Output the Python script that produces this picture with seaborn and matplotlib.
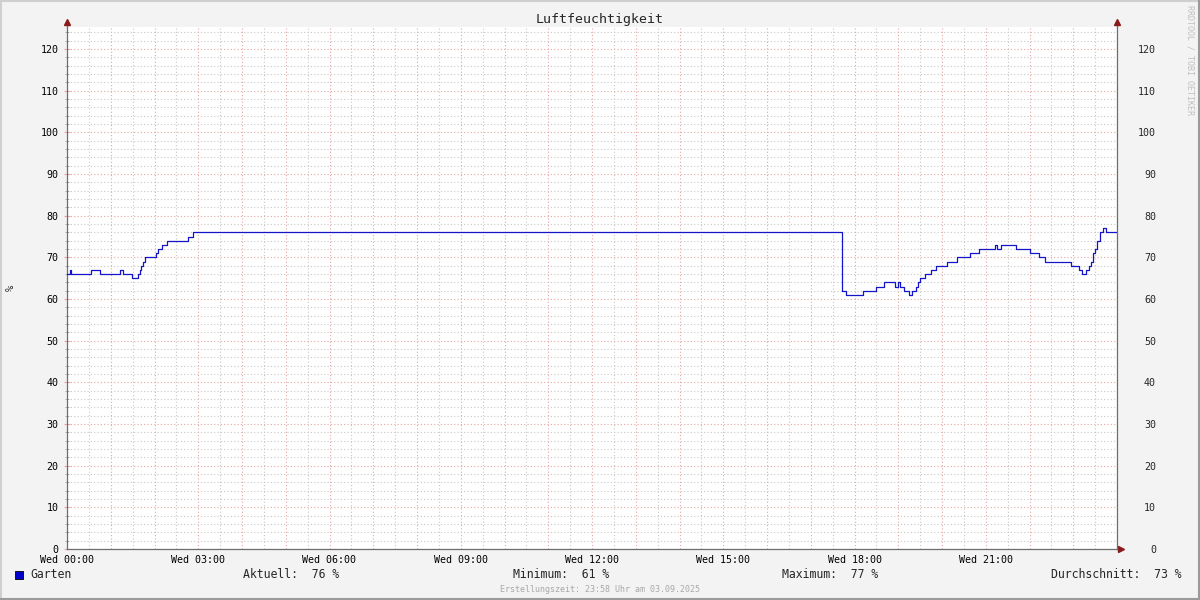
import numpy as np
import matplotlib
matplotlib.use("Agg")
import matplotlib.pyplot as plt
import seaborn as sns
import pandas as pd
from matplotlib.patches import Rectangle
from matplotlib.lines import Line2D

# Luftfeuchtigkeit Garten, Stufenpunkte (Stunde, Wert in %)
stunden = [0.00, 0.06, 0.10, 0.54, 0.75, 1.21, 1.27, 1.49, 1.62, 1.66, 1.70, 1.74, 1.79,
           2.03, 2.08, 2.16, 2.28, 2.77, 2.87,
           17.72, 17.80, 18.19, 18.50, 18.67, 18.93, 19.00, 19.04, 19.12, 19.24, 19.31,
           19.41, 19.45, 19.50, 19.62, 19.74, 19.86, 20.12, 20.35, 20.64, 20.84, 21.20,
           21.25, 21.34, 21.70, 22.00, 22.21, 22.36, 22.94, 23.14, 23.21, 23.30, 23.35,
           23.40, 23.45, 23.50, 23.55, 23.60, 23.69, 23.75, 24.00]
werte = [66, 67, 66, 67, 66, 67, 66, 65, 66, 67, 68, 69, 70,
         71, 72, 73, 74, 75, 76,
         62, 61, 62, 63, 64, 63, 64, 63, 62, 61, 62,
         63, 64, 65, 66, 67, 68, 69, 70, 71, 72, 73,
         72, 73, 72, 71, 70, 69, 68, 67, 66, 67, 68,
         69, 71, 72, 74, 76, 77, 76, 76]

x_labels = ["Wed 00:00", "Wed 03:00", "Wed 06:00", "Wed 09:00",
            "Wed 12:00", "Wed 15:00", "Wed 18:00", "Wed 21:00"]
y_ticks = list(range(0, 121, 10))
stats = [("Aktuell:", "76 %"), ("Minimum:", "61 %"),
         ("Maximum:", "77 %"), ("Durchschnitt:", "73 %")]

df = pd.DataFrame({"Stunde": stunden, "Wert": werte})

sns.set_theme(style="white")
plt.rcParams["font.family"] = ["DejaVu Sans Mono"]

bg = "#f3f3f3"
axis_col = "#6e6e6e"
major_col = "#e6a6a6"
minor_col = "#c8c8c8"
arrow_col = "#8b1a1a"
line_col = "#1414c8"

fig = plt.figure(figsize=(12, 6), dpi=100, facecolor=bg)
ax = fig.add_axes([67 / 1200, 51 / 600, 1050 / 1200, 522 / 600])
ax.set_facecolor("white")

ymax = 522 / (500 / 120)
ax.set_xlim(0, 24)
ax.set_ylim(0, ymax)

sns.lineplot(data=df, x="Stunde", y="Wert", ax=ax, drawstyle="steps-post",
             color=line_col, linewidth=0.9, estimator=None, zorder=5)

# grid
ax.set_xticks(range(25))
ax.set_xticklabels([x_labels[h // 3] if (h % 3 == 0 and h < 24) else "" for h in range(25)])
ax.set_xticks(np.arange(0, 24.01, 0.5), minor=True)
ax.set_yticks(y_ticks)
ax.set_yticks(range(0, 126, 2), minor=True)
ax.grid(which="minor", color=minor_col, linestyle=(0, (1, 2)), linewidth=0.8)
ax.grid(which="major", color=major_col, linestyle=(0, (1, 2)), linewidth=0.8)
ax.set_axisbelow(True)

ax.tick_params(axis="both", which="major", labelsize=7.2, colors=major_col,
               labelcolor="black", direction="inout", length=4, width=0.8)
ax.tick_params(axis="both", which="minor", colors="#a0a0a0",
               direction="inout", length=3, width=0.6)
ax.tick_params(axis="x", which="major", pad=2)
ax.tick_params(axis="y", which="major", pad=4)
ax.set_xlabel("")
ax.set_ylabel("%", fontsize=7.5, rotation=90)
ax.yaxis.set_label_coords(-0.049, 0.5)

for s in ["left", "bottom", "right"]:
    ax.spines[s].set_color(axis_col)
    ax.spines[s].set_linewidth(0.9)
ax.spines["top"].set_visible(False)

# right-hand labels
ax2 = ax.twinx()
ax2.set_ylim(0, ymax)
ax2.set_yticks(y_ticks)
ax2.set_yticklabels([str(v) for v in y_ticks])
ax2.tick_params(axis="y", labelsize=7.2, length=0, pad=28)
for t in ax2.get_yticklabels():
    t.set_horizontalalignment("right")
for s in ax2.spines.values():
    s.set_visible(False)
ax2.grid(False)

# axis arrows
top = 527 / 522
ax.add_line(Line2D([0, 0], [1, top], transform=ax.transAxes, color=axis_col,
                   lw=0.9, clip_on=False))
ax.add_line(Line2D([1, 1], [1, top], transform=ax.transAxes, color=axis_col,
                   lw=0.9, clip_on=False))
ax.plot([0, 1], [top, top], transform=ax.transAxes, marker="^", ms=4.5,
        color=arrow_col, ls="none", clip_on=False)
ax.add_line(Line2D([1, 1054 / 1050], [0, 0], transform=ax.transAxes,
                   color=axis_col, lw=0.9, clip_on=False))
ax.plot([1054 / 1050], [0], transform=ax.transAxes, marker=">", ms=4.5,
        color=arrow_col, ls="none", clip_on=False)

# title, legend, footer
fig.text(0.5, 1 - 19 / 600, "Luftfeuchtigkeit", ha="center", va="center", fontsize=9.5)
fig.patches.append(Rectangle((15 / 1200, 1 - 579 / 600), 8 / 1200, 8 / 600,
                             transform=fig.transFigure, facecolor="#0000cc",
                             edgecolor="black", linewidth=0.6))
ly = 1 - 575 / 600
fig.text(30 / 1200, ly, "Garten", ha="left", va="center", fontsize=8.3)
xs = [243, 513, 782, 1051]
for (lab, val), x0 in zip(stats, xs):
    fig.text(x0 / 1200, ly, f"{lab}  {val}", ha="left", va="center", fontsize=8.3)
fig.text(0.5, 1 - 589 / 600, "Erstellungszeit: 23:58 Uhr am 03.09.2025",
         ha="center", va="center", fontsize=6, color="#a8a8a8")
fig.text(1190 / 1200, 1 - 5 / 600, "RRDTOOL / TOBI OETIKER", rotation=270,
         ha="center", va="top", fontsize=6, color="#c0c0c0")

# 3D border
fig.add_artist(Line2D([0, 1], [1 - 1 / 600, 1 - 1 / 600], color="#cfcfcf", lw=1.5))
fig.add_artist(Line2D([1 / 1200, 1 / 1200], [0, 1], color="#cfcfcf", lw=1.5))
fig.add_artist(Line2D([0, 1], [1 / 600, 1 / 600], color="#9a9a9a", lw=1.5))
fig.add_artist(Line2D([1 - 1 / 1200, 1 - 1 / 1200], [0, 1], color="#9a9a9a", lw=1.5))

fig.savefig("out.png", dpi=100, facecolor=bg)
